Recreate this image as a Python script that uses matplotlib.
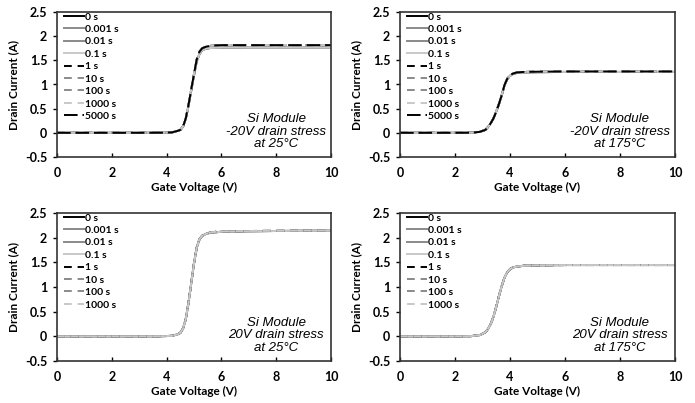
import matplotlib
matplotlib.use("Agg")
import matplotlib.pyplot as plt
from matplotlib.ticker import FuncFormatter

# ---------------- data ----------------
# Gate-voltage sample points (V)
vg_25 = [0, 1, 2, 3, 3.8, 4.2, 4.4, 4.5, 4.6, 4.7, 4.8, 4.9, 5.0, 5.1, 5.2, 5.3,
         5.45, 5.6, 5.8, 6.0, 7, 8, 9, 10]
vg_175 = [0, 1, 2, 2.4, 2.6, 2.9, 3.1, 3.2, 3.3, 3.4, 3.5, 3.6, 3.7, 3.8, 3.9, 4.0,
          4.1, 4.25, 4.5, 5, 6, 8, 10]

# -20 V drain stress, 25 C  (early stress times / late stress times)
id_neg25_early = [0, 0, 0, 0, 0.002, 0.01, 0.04, 0.06, 0.13, 0.29, 0.56, 0.88, 1.19,
                  1.48, 1.63, 1.71, 1.745, 1.755, 1.76, 1.765, 1.77, 1.77, 1.77, 1.77]
id_neg25_late = [0, 0, 0, 0, 0.002, 0.01, 0.04, 0.06, 0.13, 0.30, 0.58, 0.90, 1.22,
                 1.52, 1.68, 1.75, 1.785, 1.80, 1.81, 1.815, 1.815, 1.815, 1.815, 1.815]
# -20 V drain stress, 175 C
id_neg175_early = [0, 0, 0, 0.001, 0.003, 0.02, 0.06, 0.12, 0.2, 0.3, 0.44, 0.6, 0.78,
                   0.98, 1.11, 1.18, 1.215, 1.24, 1.25, 1.255, 1.26, 1.26, 1.26]
id_neg175_late = [0, 0, 0, 0.001, 0.003, 0.02, 0.06, 0.12, 0.2, 0.3, 0.44, 0.6, 0.78,
                  0.99, 1.12, 1.19, 1.225, 1.25, 1.26, 1.265, 1.27, 1.27, 1.27]
# +20 V drain stress, 25 C
id_pos25_early = [0, 0, 0, 0, 0.002, 0.01, 0.04, 0.07, 0.16, 0.35, 0.68, 1.08, 1.48,
                  1.80, 1.97, 2.04, 2.08, 2.10, 2.11, 2.12, 2.13, 2.135, 2.14, 2.14]
id_pos25_late = [0, 0, 0, 0, 0.002, 0.01, 0.04, 0.07, 0.16, 0.35, 0.68, 1.08, 1.48,
                 1.80, 1.97, 2.04, 2.085, 2.105, 2.12, 2.125, 2.135, 2.14, 2.145, 2.145]
# +20 V drain stress, 175 C
id_pos175_early = [0, 0, 0, 0.001, 0.005, 0.025, 0.08, 0.15, 0.25, 0.4, 0.6, 0.82, 1.02,
                   1.19, 1.3, 1.36, 1.395, 1.415, 1.43, 1.44, 1.445, 1.445, 1.445]
id_pos175_late = id_pos175_early

# series definitions
labels_neg = ["0 s", "0.001 s", "0.01 s", "0.1 s", "1 s", "10 s", "100 s", "1000 s", "5000 s"]
labels_pos = ["0 s", "0.001 s", "0.01 s", "0.1 s", "1 s", "10 s", "100 s", "1000 s"]
late_from = 4  # index of first "late" stress time

panel_titles = ["Si Module\n-20V drain stress\nat 25\u00b0C",
                "Si Module\n-20V drain stress\nat 175\u00b0C",
                "Si Module\n20V drain stress\nat 25\u00b0C",
                "Si Module\n20V drain stress\nat 175\u00b0C"]

x_ticks = [0, 2, 4, 6, 8, 10]
y_ticks = [-0.5, 0, 0.5, 1, 1.5, 2, 2.5]

# ---------------- styles ----------------
styles = {
    "0 s":     dict(color="#000000", ls="-"),
    "0.001 s": dict(color="#8a8a8a", ls="-"),
    "0.01 s":  dict(color="#8a8a8a", ls="-"),
    "0.1 s":   dict(color="#c8c8c8", ls="-"),
    "1 s":     dict(color="#000000", ls=(0, (4, 3))),
    "10 s":    dict(color="#8a8a8a", ls=(0, (4, 3))),
    "100 s":   dict(color="#8a8a8a", ls=(0, (4, 3))),
    "1000 s":  dict(color="#c8c8c8", ls=(0, (4, 3))),
    "5000 s":  dict(color="#000000", ls=(0, (7, 2.5))),
}

FONT = "Lato"
fig = plt.figure(figsize=(6.95, 4.03), dpi=100)

W = 695.0
H = 403.0
boxes = [
    (57, 331, 12, 157),
    (400, 675, 12, 157),
    (57, 331, 213, 361),
    (400, 675, 213, 361),
]

panels = [
    (vg_25, id_neg25_early, id_neg25_late, labels_neg),
    (vg_175, id_neg175_early, id_neg175_late, labels_neg),
    (vg_25, id_pos25_early, id_pos25_late, labels_pos),
    (vg_175, id_pos175_early, id_pos175_late, labels_pos),
]

fmt = FuncFormatter(lambda v, p: ("%g" % v))

for (l, r, t, b), (vg, early, late, labels), title in zip(boxes, panels, panel_titles):
    ax = fig.add_axes([l / W, 1 - b / H, (r - l) / W, (b - t) / H])
    for i, lab in enumerate(labels):
        yv = early if i < late_from else late
        st = styles[lab]
        ax.plot(vg, yv, color=st["color"], linestyle=st["ls"], lw=1.4, label=lab)
    ax.set_xlim(0, 10)
    ax.set_ylim(-0.5, 2.5)
    ax.set_xticks(x_ticks)
    ax.set_yticks(y_ticks)
    ax.xaxis.set_major_formatter(fmt)
    ax.yaxis.set_major_formatter(fmt)
    ax.tick_params(axis="x", direction="in", length=3, width=1, pad=7)
    ax.tick_params(axis="y", direction="out", length=3, width=1, pad=4)
    for lab in ax.get_xticklabels() + ax.get_yticklabels():
        lab.set_fontfamily(FONT)
        lab.set_fontweight("bold")
        lab.set_fontsize(9)
    for sp in ax.spines.values():
        sp.set_linewidth(1.2)
        sp.set_color("#333333")
    ax.set_xlabel("Gate Voltage (V)", fontfamily=FONT, fontweight="bold", fontsize=8.5, labelpad=2)
    ax.set_ylabel("Drain Current (A)", fontfamily=FONT, fontweight="bold", fontsize=8.5, labelpad=4)
    ax.text(8.0, 0.02, title, ha="center", va="center", fontsize=9.5,
            fontstyle="italic", fontfamily="Liberation Sans", linespacing=1.05)
    leg = ax.legend(loc="upper left", bbox_to_anchor=(0.022, 1.005), frameon=False,
                    handlelength=1.9, handletextpad=0.1, labelspacing=0.3,
                    borderaxespad=0.0, borderpad=0.1,
                    prop=dict(family=FONT, weight="bold", size=7.5))

fig.savefig("out.png", dpi=100)
